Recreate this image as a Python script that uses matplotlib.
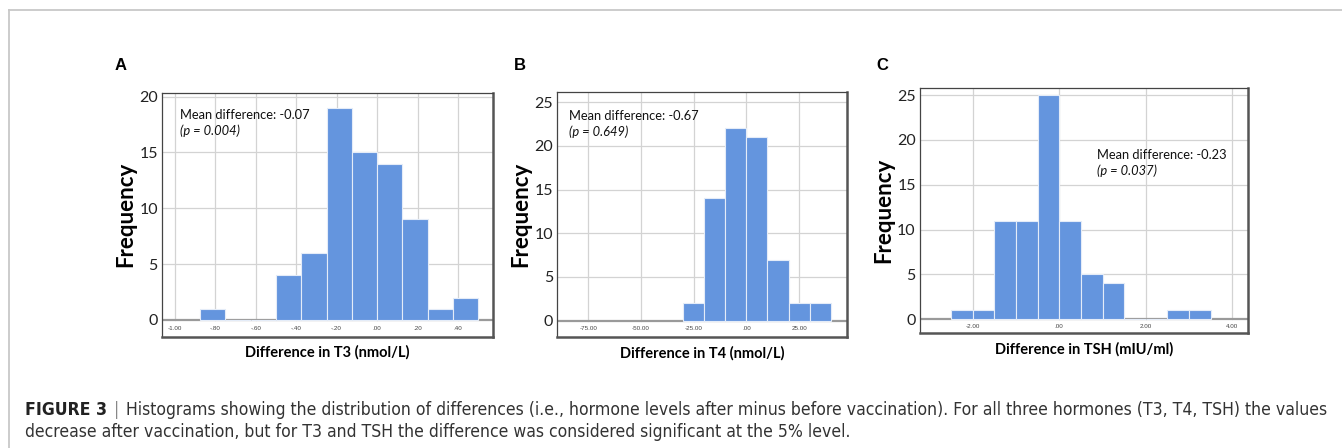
import matplotlib
matplotlib.use("Agg")
import matplotlib.pyplot as plt
from matplotlib import font_manager
from matplotlib.font_manager import FontProperties
from matplotlib.lines import Line2D

# histogram data (bin left edges, bin width, counts)
t3_left = [-0.875, -0.75, -0.625, -0.5, -0.375, -0.25, -0.125, 0.0, 0.125, 0.25, 0.375]
t3_width = 0.125
t3_counts = [1, 0, 0, 4, 6, 19, 15, 14, 9, 1, 2]

t4_left = [-30, -20, -10, 0, 10, 20, 30]
t4_width = 10
t4_counts = [2, 14, 22, 21, 7, 2, 2]

tsh_left = [-2.5, -2.0, -1.5, -1.0, -0.5, 0.0, 0.5, 1.0, 1.5, 2.0, 2.5, 3.0]
tsh_width = 0.5
tsh_counts = [1, 1, 11, 11, 25, 11, 5, 4, 0, 0, 1, 1]

t3_ticks = [-1.0, -0.8, -0.6, -0.4, -0.2, 0.0, 0.2, 0.4]
t3_ticklabels = ["-1.00", "-.80", "-.60", "-.40", "-.20", ".00", ".20", ".40"]
t4_ticks = [-75, -50, -25, 0, 25]
t4_ticklabels = ["-75.00", "-50.00", "-25.00", ".00", "25.00"]
tsh_ticks = [-2, 0, 2, 4]
tsh_ticklabels = ["-2.00", ".00", "2.00", "4.00"]

BAR = "#6495de"
GRID = "#d3d3d3"
FONT = "Lato"


def caption_font():
	# prefer a condensed face, like the journal caption
	try:
		fp = FontProperties(family="DejaVu Sans", stretch="condensed")
		f = font_manager.findfont(fp, fallback_to_default=False)
		if "ondensed" in f:
			return dict(family="DejaVu Sans", stretch="condensed")
	except Exception:
		pass
	try:
		font_manager.findfont("Liberation Sans Narrow", fallback_to_default=False)
		return dict(family="Liberation Sans Narrow")
	except Exception:
		pass
	return dict(family="Liberation Sans")


def panel(ax, left, width, counts, xlim, ylim, yticks, ticks, ticklabels,
		xlabel, note, pval, note_xy):
	ax.set_xlim(*xlim)
	ax.set_ylim(*ylim)
	y0 = (0 - ylim[0]) / (ylim[1] - ylim[0])
	# grid
	for t in yticks[1:]:
		ax.axhline(t, color=GRID, lw=0.9, zorder=0)
	for t in ticks:
		ax.axvline(t, ymin=y0, ymax=1, color=GRID, lw=0.9, zorder=0)
	ax.axhline(0, color="#9a9a9a", lw=1.6, zorder=1)
	ax.bar(left, counts, width=width, align="edge", color=BAR,
		edgecolor="#e4ecf8", linewidth=0.8, zorder=2)
	ax.set_xticks([])
	ax.set_yticks(yticks)
	ax.set_yticklabels([str(t) for t in yticks], fontsize=11.5, family=FONT, color="#222")
	ax.tick_params(axis="y", length=0, pad=3)
	for t, lab in zip(ticks, ticklabels):
		ax.text(t, y0 * 0.5, lab, transform=ax.get_xaxis_transform(), ha="center",
			va="center", fontsize=4.5, color="#444", family="Liberation Sans")
	for s in ["left", "top"]:
		ax.spines[s].set_linewidth(0.9)
		ax.spines[s].set_color("#444")
	for s in ["right", "bottom"]:
		ax.spines[s].set_linewidth(1.8)
		ax.spines[s].set_color("#555")
	ax.set_ylabel("Frequency", fontsize=16, fontweight="bold", family=FONT, labelpad=2)
	ax.set_xlabel(xlabel, fontsize=10.5, fontweight="bold", family=FONT, labelpad=6)
	ax.text(note_xy[0], note_xy[1], note, transform=ax.transAxes, fontsize=9.3,
		family=FONT, va="center", ha="left", color="#111")
	ax.text(note_xy[0], note_xy[1] - 0.066, pval, transform=ax.transAxes, fontsize=9.3,
		family=FONT, style="italic", va="center", ha="left", color="#111")


fig = plt.figure(figsize=(13.42, 4.48), dpi=100)

axA = fig.add_axes([0.1207, 0.2484, 0.2467, 0.5447])
panel(axA, t3_left, t3_width, t3_counts, (-1.063, 0.573), (-1.5, 20.35),
	[0, 5, 10, 15, 20], t3_ticks, t3_ticklabels, "Difference in T3 (nmol/L)",
	"Mean difference: -0.07", "(p = 0.004)", (0.054, 0.909))

axB = fig.add_axes([0.4153, 0.2471, 0.2156, 0.5482])
panel(axB, t4_left, t4_width, t4_counts, (-89.7, 47.6), (-1.9, 26.2),
	[0, 5, 10, 15, 20, 25], t4_ticks, t4_ticklabels, "Difference in T4 (nmol/L)",
	"Mean difference: -0.67", "(p = 0.649)", (0.040, 0.902))

axC = fig.add_axes([0.6855, 0.2560, 0.2447, 0.5469])
panel(axC, tsh_left, tsh_width, tsh_counts, (-3.22, 4.37), (-1.56, 25.75),
	[0, 5, 10, 15, 20, 25], tsh_ticks, tsh_ticklabels, "Difference in TSH (mIU/ml)",
	"Mean difference: -0.23", "(p = 0.037)", (0.540, 0.728))

# panel letters
for x, lab in [(121, "A"), (520, "B"), (882, "C")]:
	fig.text(x / 1342, 1 - 66 / 448, lab, fontsize=12, fontweight="bold",
		family="Liberation Sans", ha="center", va="center")

# outer frame (top + left)
fig.add_artist(Line2D([9 / 1342, 1], [1 - 10 / 448, 1 - 10 / 448], color="#c8c8c8", lw=1.3))
fig.add_artist(Line2D([9 / 1342, 9 / 1342], [0, 1 - 10 / 448], color="#c8c8c8", lw=1.3))

# caption
cf = caption_font()
line1 = "Histograms showing the distribution of differences (i.e., hormone levels after minus before vaccination). For all three hormones (T3, T4, TSH) the values"
line2 = "decrease after vaccination, but for T3 and TSH the difference was considered significant at the 5% level."

renderer = fig.canvas.get_renderer()
x_start = 25
x_end = 1332
y1 = 1 - 410 / 448
y2 = 1 - 432 / 448


def draw_line1(size):
	tb = fig.text(x_start / 1342, y1, "FIGURE 3", fontsize=size, fontweight="bold",
		va="center", color="#222", **cf)
	wb = tb.get_window_extent(renderer).width
	tbar = fig.text((x_start + wb + 0.55 * size) / 1342, y1, "|", fontsize=size,
		va="center", color="#888", **cf)
	wbar = tbar.get_window_extent(renderer).width
	tl = fig.text((x_start + wb + wbar + 1.1 * size) / 1342, y1, line1, fontsize=size,
		va="center", color="#333", **cf)
	return [tb, tbar, tl], tl.get_window_extent(renderer).x1


size = 12.5
texts, end = draw_line1(size)
for t in texts:
	t.remove()
size = size * (x_end - x_start) / (end - x_start)
texts, end = draw_line1(size)

fig.text(x_start / 1342, y2, line2, fontsize=size, va="center", color="#333", **cf)

fig.savefig("out.png", dpi=100)
